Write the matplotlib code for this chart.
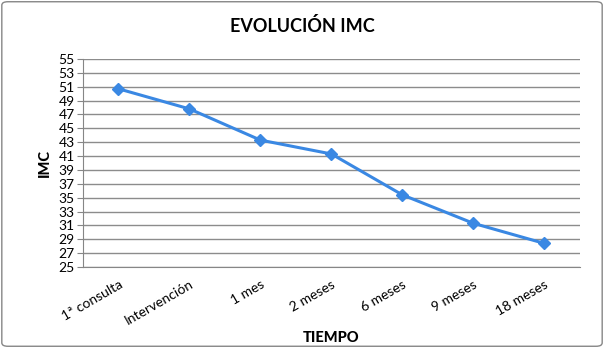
import matplotlib
matplotlib.use("Agg")
import matplotlib.pyplot as plt
from matplotlib.patches import FancyBboxPatch

categorias = ["1ª consulta", "Intervención", "1 mes", "2 meses", "6 meses", "9 meses", "18 meses"]
imc = [50.7, 47.8, 43.3, 41.3, 35.4, 31.3, 28.4]
yticks = list(range(25, 56, 2))

plt.rcParams['font.family'] = ['Lato', 'DejaVu Sans']

fig = plt.figure(figsize=(6.04, 3.48), dpi=100)
ax = fig.add_axes([0.1374, 0.2328, 0.8226, 0.5977])

color = "#3A88E3"
ax.plot(range(len(categorias)), imc, color=color, lw=2.2, marker="D", ms=6.5,
        markeredgecolor=color, markerfacecolor=color)

ax.set_xlim(-0.5, len(categorias) - 0.5)
ax.set_ylim(25, 55)
ax.set_yticks(yticks)
ax.set_xticks(range(len(categorias)))
ax.set_xticklabels(categorias, rotation=30, ha="right", rotation_mode="anchor")
ax.tick_params(axis="x", length=0, labelsize=10, pad=8)
ax.tick_params(axis="y", length=4, labelsize=10, color="#868686", pad=2)
ax.grid(axis="y", color="#8C8C8C", lw=1)
ax.set_axisbelow(True)
for s in ["top", "right"]:
    ax.spines[s].set_visible(False)
for s in ["left", "bottom"]:
    ax.spines[s].set_color("#868686")

ax.set_ylabel("IMC", fontsize=10.5, fontweight="black", labelpad=5)
ax.set_xlabel("TIEMPO", fontsize=10.5, fontweight="black", labelpad=3)
fig.text(0.5, 0.925, "EVOLUCIÓN IMC", ha="center", va="center", fontsize=13, fontweight="bold")

border = FancyBboxPatch((0.003, 0.005), 0.994, 0.99, boxstyle="round,pad=0,rounding_size=0.01",
                        transform=fig.transFigure, fill=False, ec="#868686", lw=1)
fig.patches.append(border)

fig.savefig("out.png", dpi=100)
